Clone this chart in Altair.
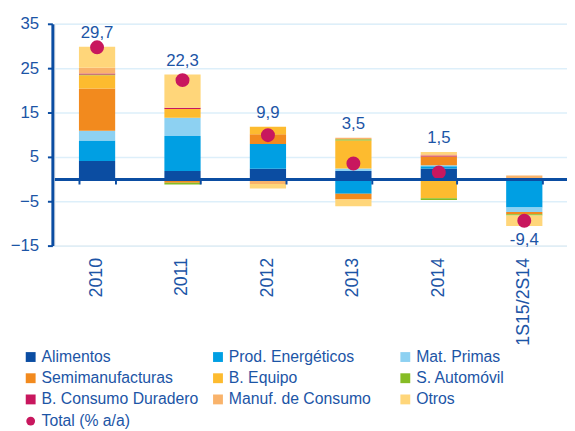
import altair as alt
import pandas as pd

categories = ["2010", "2011", "2012", "2013", "2014", "1S15/2S14"]

series = ["Alimentos", "Prod. Energéticos", "Mat. Primas", "Semimanufacturas",
          "B. Equipo", "S. Automóvil", "B. Consumo Duradero",
          "Manuf. de Consumo", "Otros"]

alimentos = [4.1, 1.8, 2.3, 1.8, 2.4, 0.0]
prod_energeticos = [4.6, 7.9, 5.6, -3.3, 0.5, -6.4]
mat_primas = [2.2, 4.1, 0.0, 0.6, 0.2, -1.0]
semimanufacturas = [9.5, -0.8, 2.2, -1.3, 2.0, -0.5]
b_equipo = [3.0, 2.0, 1.7, 6.3, -4.3, 0.0]
s_automovil = [0.2, -0.4, 0.0, 0.3, -0.4, -0.3]
b_consumo_duradero = [0.2, 0.3, -0.3, 0.0, 0.2, 0.2]
manuf_consumo = [1.3, 0.0, -0.8, 0.3, 0.3, 0.6]
otros = [4.7, 7.5, -1.0, -1.5, 0.5, -2.4]

totals = [29.7, 22.3, 9.9, 3.5, 1.5, -9.4]

colors = ["#0B4DA2", "#009FE3", "#8DD1F2", "#F28A1E", "#FDBB2F",
          "#86BC25", "#C8175E", "#F9B36B", "#FFD67A"]

BLUE = "#0B4DA2"
TXT = "#1C55A6"
FONT = "Liberation Sans"

values = [alimentos, prod_energeticos, mat_primas, semimanufacturas, b_equipo,
          s_automovil, b_consumo_duradero, manuf_consumo, otros]

rows = []
for si, (name, vals) in enumerate(zip(series, values)):
    for cat, v in zip(categories, vals):
        rows.append({"cat": cat, "serie": name, "value": v, "idx": si})
df = pd.DataFrame(rows)

pos_sum = [sum(v[i] for v in values if v[i] > 0) for i in range(len(categories))]
neg_sum = [sum(v[i] for v in values if v[i] < 0) for i in range(len(categories))]

tot = pd.DataFrame({
    "cat": categories,
    "total": totals,
    "label": [f"{t:.1f}".replace(".", ",") for t in totals],
    "anchor": [p if t >= 0 else n for t, p, n in zip(totals, pos_sum, neg_sum)],
    "kind": ["Total (% a/a)"] * len(categories),
})

xscale = alt.Scale(domain=categories, paddingInner=0.576, paddingOuter=0.288)
yscale = alt.Scale(domain=[-15, 35], nice=False, zero=False)
yaxis = alt.Axis(title=None, values=[-15, -5, 5, 15, 25, 35],
                 grid=True, gridColor="#DDEFFA", gridWidth=1.5,
                 domainColor=BLUE, domainWidth=3, tickColor=BLUE,
                 tickWidth=2, tickSize=5, labelColor=TXT,
                 labelFontSize=17, labelFont=FONT, labelPadding=9,
                 offset=2)

bars = alt.Chart(df).mark_bar().encode(
    x=alt.X("cat:N", scale=xscale, sort=categories,
            axis=alt.Axis(title=None, orient="bottom", labelAngle=-90,
                          labelFontSize=18, labelColor=TXT, labelFont=FONT,
                          labelPadding=12, domain=False, ticks=False,
                          grid=False)),
    y=alt.Y("value:Q", scale=yscale, stack="zero", axis=yaxis),
    color=alt.Color("serie:N", scale=alt.Scale(domain=series, range=colors),
                    legend=alt.Legend(orient="none", legendX=-32, legendY=330,
                                      direction="horizontal",
                                      columns=3, title=None, symbolType="square",
                                      symbolSize=100, symbolStrokeWidth=0,
                                      labelFontSize=16, labelColor=TXT,
                                      labelFont=FONT, labelOffset=3,
                                      rowPadding=5.5, columnPadding=11,
                                      gridAlign="all", padding=0,
                                      labelLimit=300)),
    order=alt.Order("idx:Q"),
)

points = alt.Chart(tot).mark_point(filled=True, size=200, opacity=1,
                                   color="#C8175E").encode(
    x=alt.X("cat:N", scale=xscale, sort=categories,
            axis=alt.Axis(title=None, orient="bottom", labels=False,
                          offset=-67.5, domain=True, domainColor=BLUE,
                          domainWidth=3, ticks=True, tickColor=BLUE,
                          tickWidth=2, tickSize=5, tickBand="extent",
                          grid=False, zindex=1)),
    y=alt.Y("total:Q", scale=yscale, axis=yaxis),
    shape=alt.Shape("kind:N", scale=alt.Scale(range=["circle"]),
                    legend=alt.Legend(orient="none", legendX=-32, legendY=395,
                                      title=None, symbolSize=80,
                                      symbolFillColor="#C8175E",
                                      symbolStrokeWidth=0, labelFontSize=16,
                                      labelColor=TXT, labelFont=FONT,
                                      labelOffset=3, padding=0)),
)

labels_pos = alt.Chart(tot).transform_filter("datum.total >= 0").mark_text(
    baseline="alphabetic", dy=-9, fontSize=17, color=TXT, font=FONT
).encode(
    x=alt.X("cat:N", scale=xscale, sort=categories, axis=None),
    y=alt.Y("anchor:Q", scale=yscale, axis=yaxis),
    text="label:N",
)

labels_neg = alt.Chart(tot).transform_filter("datum.total < 0").mark_text(
    baseline="top", dy=6, fontSize=17, color=TXT, font=FONT
).encode(
    x=alt.X("cat:N", scale=xscale, sort=categories, axis=None),
    y=alt.Y("anchor:Q", scale=yscale, axis=yaxis),
    text="label:N",
)

chart = alt.layer(bars, points, labels_pos, labels_neg).resolve_axis(
    x="independent"
).properties(
    width=520, height=225,
    padding={"left": 47, "top": 13, "right": 0, "bottom": 185},
    autosize=alt.AutoSizeParams(type="none"),
).configure_view(stroke=None).configure(font=FONT)

chart.save("out.html", embed_options={"renderer": "svg", "actions": False})
